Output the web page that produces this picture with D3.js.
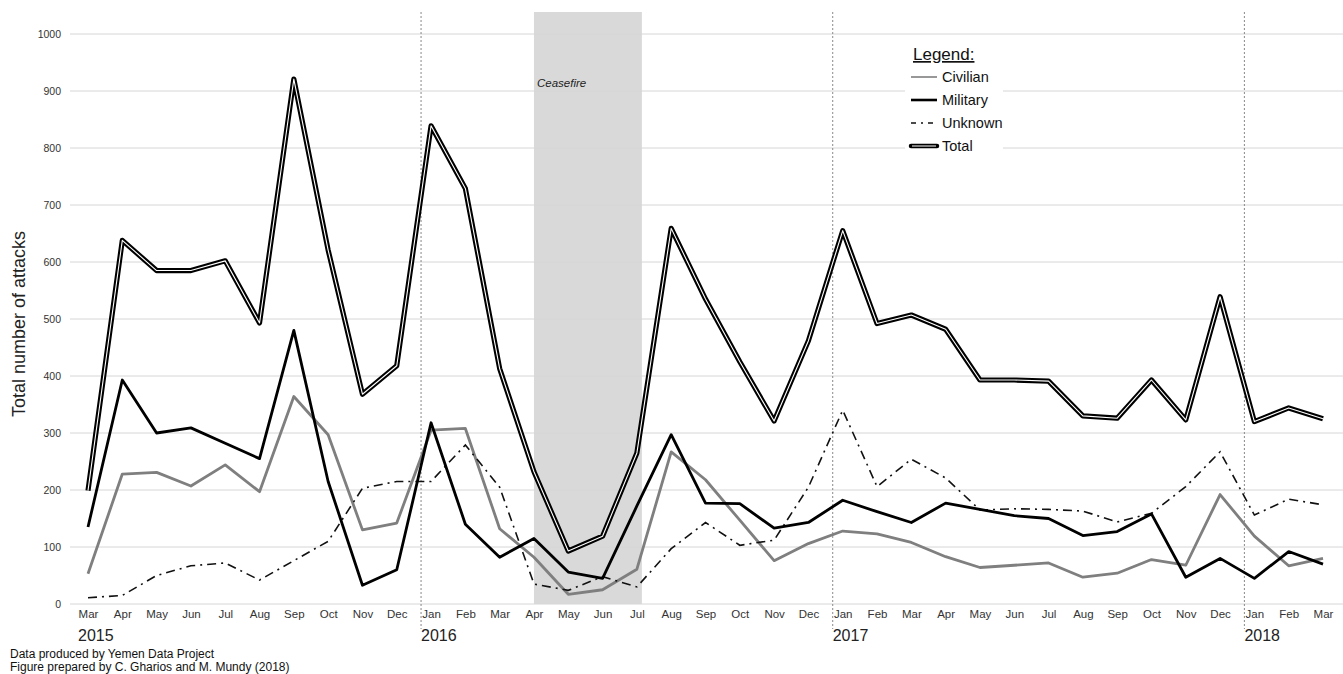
<!DOCTYPE html>
<html>
<head>
<meta charset="utf-8">
<script src="https://cdn.jsdelivr.net/npm/d3@7"></script>
<style>
html,body{margin:0;padding:0;background:#fff;}
svg{display:block;font-family:"Liberation Sans",Arial,Helvetica,sans-serif;}
</style>
</head>
<body>
<svg id="chart" width="1343" height="674"></svg>
<script>
const months = ["Mar","Apr","May","Jun","Jul","Aug","Sep","Oct","Nov","Dec",
  "Jan","Feb","Mar","Apr","May","Jun","Jul","Aug","Sep","Oct","Nov","Dec",
  "Jan","Feb","Mar","Apr","May","Jun","Jul","Aug","Sep","Oct","Nov","Dec",
  "Jan","Feb","Mar"];
const years = [{label:"2015", start:0},{label:"2016", start:10},{label:"2017", start:22},{label:"2018", start:34}];
const civilian = [53,228,231,207,244,197,364,297,130,142,
  305,308,132,82,17,25,61,267,218,147,76,106,
  128,123,108,83,64,68,72,47,54,78,68,192,
  119,67,80];
const military = [135,393,300,309,282,255,480,215,33,60,
  318,140,82,115,56,45,172,297,177,176,133,143,
  182,162,143,177,166,155,150,120,127,158,47,80,
  45,92,70];
const unknown = [11,15,50,67,72,42,76,110,203,215,
  215,279,205,35,24,48,30,97,143,103,112,205,
  340,206,254,221,165,167,166,163,144,159,206,267,
  156,184,174];
const total = [199,638,585,585,602,493,921,621,368,418,
  839,729,413,232,93,119,265,659,535,425,321,462,
  655,492,507,482,393,393,391,330,326,393,323,539,
  320,344,325];
const yTicks = [0,100,200,300,400,500,600,700,800,900,1000];
const ceasefire = {from:13, to:16, label:"Ceasefire"};
const legendItems = ["Civilian","Military","Unknown","Total"];
const credits = ["Data produced by Yemen Data Project","Figure prepared by C. Gharios and M. Mundy (2018)"];

const svg = d3.select("#chart");
const x = d3.scalePoint().domain(d3.range(months.length)).range([88,1323]);
const y = d3.scaleLinear().domain([0,1000]).range([604,34]);

// ceasefire band
svg.append("rect")
  .attr("x", x(ceasefire.from)).attr("y", 12)
  .attr("width", x(ceasefire.to) - x(ceasefire.from) + 5)
  .attr("height", y(0) - 12)
  .attr("fill", "#d9d9d9");

// gridlines
svg.append("g").selectAll("line").data(yTicks).join("line")
  .attr("x1", 70).attr("x2", 1343)
  .attr("y1", d => y(d)).attr("y2", d => y(d))
  .attr("stroke", "#d6d6d6").attr("stroke-width", 1);

// y axis labels
const yAxis = d3.axisLeft(y).tickValues(yTicks).tickFormat(d3.format("d")).tickSize(0).tickPadding(0);
const gy = svg.append("g").attr("transform", "translate(61,0)").call(yAxis);
gy.select(".domain").remove();
gy.selectAll("text").attr("font-size", "10.5px").attr("fill", "#333")
  .attr("font-family", "Liberation Sans, Arial, sans-serif");

// x axis labels
const xAxis = d3.axisBottom(x).tickFormat(i => months[i]).tickSize(0).tickPadding(0);
const gx = svg.append("g").attr("transform", "translate(0,610)").call(xAxis);
gx.select(".domain").remove();
gx.selectAll("text").attr("font-size", "11.5px").attr("fill", "#333")
  .attr("font-family", "Liberation Sans, Arial, sans-serif");

// year separators
svg.append("g").selectAll("line").data(years.slice(1)).join("line")
  .attr("x1", d => x(d.start) - 10).attr("x2", d => x(d.start) - 10)
  .attr("y1", 12).attr("y2", 629)
  .attr("stroke", "#888").attr("stroke-width", 1).attr("stroke-dasharray", "2,2");

svg.append("g").selectAll("text").data(years).join("text")
  .attr("x", d => x(d.start) - 10).attr("y", 641)
  .attr("font-size", "16px").attr("fill", "#222")
  .text(d => d.label);

// ceasefire label
svg.append("text").attr("x", x(ceasefire.from) + 3).attr("y", 87)
  .attr("font-size", "11.5px").attr("font-style", "italic").attr("fill", "#222")
  .text(ceasefire.label);

// y title
svg.append("text")
  .attr("transform", "translate(25,324) rotate(-90)")
  .attr("text-anchor", "middle").attr("font-size", "18px").attr("fill", "#222")
  .text("Total number of attacks");

// lines
const line = d3.line().x((d,i) => x(i)).y(d => y(d));
svg.append("path").attr("d", line(civilian)).attr("fill","none")
  .attr("stroke","#7f7f7f").attr("stroke-width",2.8).attr("stroke-linejoin","round");
svg.append("path").attr("d", line(unknown)).attr("fill","none")
  .attr("stroke","#111").attr("stroke-width",1.6).attr("stroke-dasharray","9,5,2,5");
svg.append("path").attr("d", line(military)).attr("fill","none")
  .attr("stroke","#000").attr("stroke-width",2.8).attr("stroke-linejoin","round");
svg.append("path").attr("d", line(total)).attr("fill","none")
  .attr("stroke","#000").attr("stroke-width",5.2).attr("stroke-linejoin","round");
svg.append("path").attr("d", line(total)).attr("fill","none")
  .attr("stroke","#fff").attr("stroke-width",1.1).attr("stroke-linejoin","round");

// legend
const lg = svg.append("g");
lg.append("rect").attr("x",905).attr("y",40).attr("width",98).attr("height",116).attr("fill","#fff");
lg.append("text").attr("x",913).attr("y",60).attr("font-size","17px").attr("fill","#111")
  .attr("text-decoration","underline").text("Legend:");
const styles = [
  {stroke:"#7f7f7f", w:1.6, dash:null},
  {stroke:"#000", w:2.6, dash:null},
  {stroke:"#111", w:1.4, dash:"5,5,2,5"},
  {stroke:"#000", w:4.5, dash:null, double:true}
];
legendItems.forEach((name,i) => {
  const cy = 77 + i*23;
  const s = styles[i];
  lg.append("line").attr("x1",911).attr("x2",937).attr("y1",cy).attr("y2",cy)
    .attr("stroke",s.stroke).attr("stroke-width",s.w)
    .attr("stroke-dasharray",s.dash).attr("stroke-linecap", s.double ? "round" : "butt");
  if (s.double) {
    lg.append("line").attr("x1",912).attr("x2",936).attr("y1",cy).attr("y2",cy)
      .attr("stroke","#fff").attr("stroke-width",1);
  }
  lg.append("text").attr("x",942).attr("y",cy+5).attr("font-size","14.5px").attr("fill","#111").text(name);
});

// credits
svg.append("g").selectAll("text").data(credits).join("text")
  .attr("x",10).attr("y",(d,i) => 658 + i*12.5)
  .attr("font-size","12px").attr("fill","#111").text(d => d);
</script>
</body>
</html>
